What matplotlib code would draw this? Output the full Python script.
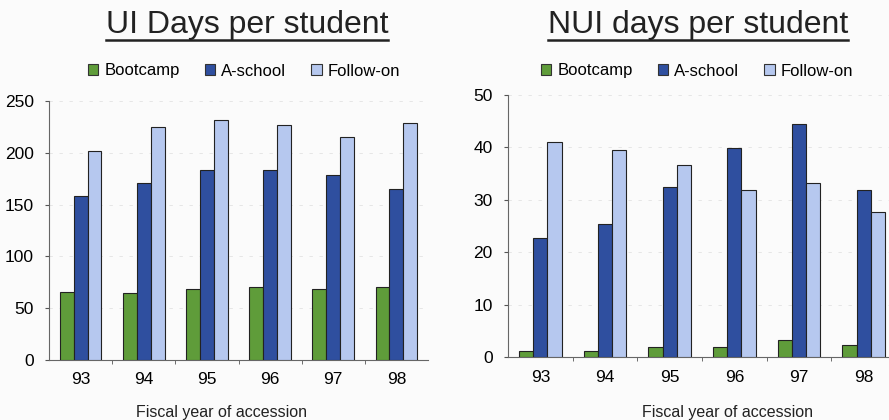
import numpy as np
import matplotlib
matplotlib.use("Agg")
import matplotlib.pyplot as plt
from matplotlib.lines import Line2D

plt.rcParams['font.family'] = ['Liberation Sans', 'DejaVu Sans']

years = ["93", "94", "95", "96", "97", "98"]
series_names = ["Bootcamp", "A-school", "Follow-on"]
colors = ["#5f9c3a", "#2f4f9f", "#b6c8ef"]

ui_bootcamp = [66, 65, 69, 70, 69, 70]
ui_aschool = [158, 171, 183, 183, 179, 165]
ui_followon = [202, 225, 232, 227, 215, 229]

nui_bootcamp = [1.1, 1.1, 2.0, 2.0, 3.3, 2.2]
nui_aschool = [22.8, 25.3, 32.4, 39.8, 44.5, 31.9]
nui_followon = [41.0, 39.5, 36.7, 31.8, 33.3, 27.6]

W, H = 889, 420
fig = plt.figure(figsize=(W / 100, H / 100), dpi=100)
fig.patch.set_facecolor("#fbfbfb")


def draw_panel(rect, data, ymax, step, title, title_x, legend_x, xlabel_x):
    ax = fig.add_axes(rect)
    ax.set_facecolor("none")
    x = np.arange(len(years))
    bw = 0.22
    for i, (vals, c) in enumerate(zip(data, colors)):
        ax.bar(x + (i - 1) * bw, vals, bw, color=c, edgecolor="#222222",
               linewidth=0.8, label=series_names[i], zorder=3)
    ax.set_xlim(-0.5, len(years) - 0.5)
    ax.set_ylim(0, ymax)
    ax.set_yticks(np.arange(0, ymax + step / 2, step))
    ax.yaxis.grid(True, color="#e2e2e2", linestyle=(0, (4, 8)), linewidth=0.6, zorder=0)
    ax.set_xticks(x)
    ax.set_xticklabels(years)
    ax.set_xticks(np.arange(0.5, len(years) - 0.5), minor=True)
    ax.tick_params(axis="x", which="major", length=0, pad=9, labelsize=12.5)
    ax.tick_params(axis="x", which="minor", length=3, color="#555555")
    ax.tick_params(axis="y", length=3, color="#555555", labelsize=12.5, pad=8)
    for s in ["top", "right"]:
        ax.spines[s].set_visible(False)
    for s in ["left", "bottom"]:
        ax.spines[s].set_color("#666666")
        ax.spines[s].set_linewidth(0.8)

    fig.text(xlabel_x / W, 1 - 412 / H, "Fiscal year of accession",
             ha="center", va="center", fontsize=11.5, color="#222222")

    t = fig.text(title_x / W, 1 - 33 / H, title, ha="center", va="baseline",
                 fontsize=23, color="#222222")
    fig.canvas.draw()
    bb = t.get_window_extent()
    uy = 1 - 40 / H
    fig.add_artist(Line2D([bb.x0 / W, bb.x1 / W], [uy, uy],
                          transform=fig.transFigure, color="#222222", linewidth=1.8))

    handles = [plt.Rectangle((0, 0), 1, 1, facecolor=c, edgecolor="#333333", linewidth=0.8)
               for c in colors]
    fig.legend(handles, series_names, loc="center", bbox_to_anchor=(legend_x / W, 1 - 71 / H),
               ncol=3, frameon=False, fontsize=12, handlelength=0.65, handleheight=0.65,
               handletextpad=0.35, columnspacing=1.5)
    return ax


draw_panel([49 / W, 1 - 360 / H, 379 / W, 259 / H],
           [ui_bootcamp, ui_aschool, ui_followon], 250, 50,
           "UI Days per student", 247, 244, 222)
draw_panel([508 / W, 1 - 357 / H, 388 / W, 262 / H],
           [nui_bootcamp, nui_aschool, nui_followon], 50, 10,
           "NUI days per student", 698, 697, 728)

fig.savefig("out.png", dpi=100, facecolor=fig.get_facecolor())
